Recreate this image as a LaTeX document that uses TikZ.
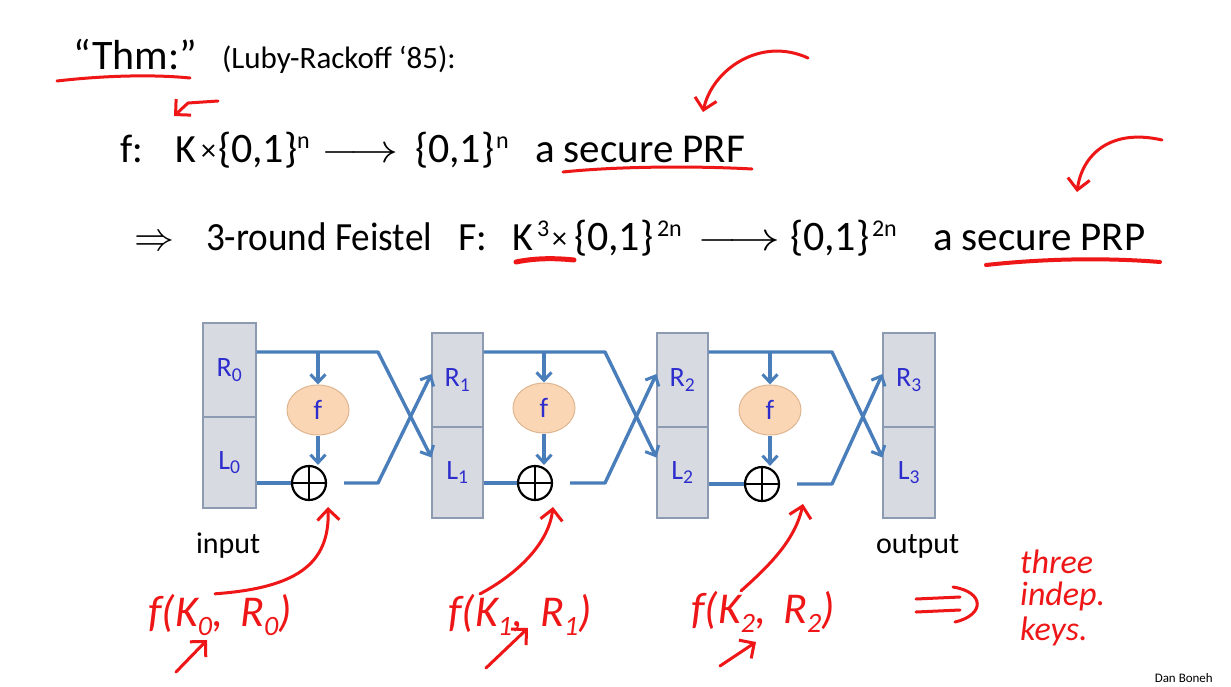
\documentclass[tikz,border=0pt]{standalone}
\usepackage{fix-cm}
\usepackage{fontspec}
\setmainfont{Carlito}
\usetikzlibrary{arrows.meta,shapes.geometric,calc}
\definecolor{flowblue}{RGB}{74,126,187}
\definecolor{boxgray}{RGB}{216,218,226}
\definecolor{boxedge}{RGB}{140,155,178}
\definecolor{lblue}{RGB}{45,45,205}
\definecolor{ffill}{RGB}{251,214,180}
\definecolor{fedge}{RGB}{222,182,145}
\definecolor{penred}{RGB}{238,22,22}
\newcommand\setfs[1]{\fontsize{#1}{#1}\selectfont}
\newcommand\hsub[1]{\raisebox{-0.22em}{\setfs{28}#1}}
\begin{document}
\begin{tikzpicture}[x=1pt,y=-1pt,
  txt/.style={inner sep=0pt,outer sep=0pt,anchor=base west},
  half/.style={draw=boxedge,fill=boxgray,line width=1.2pt,inner sep=0pt,minimum height=#1,text=lblue,font=\setfs{28}},
  flow/.style={draw=flowblue,line width=3.4pt,line join=round},
  farr/.style={flow,-{Straight Barb[length=8pt,width=15pt,line width=3pt]}},
  fnode/.style={ellipse,draw=fedge,fill=ffill,line width=1pt,minimum width=62pt,minimum height=50pt,inner sep=0pt,text=lblue,font=\setfs{28}},
  xornode/.style={circle,draw=black,line width=2.2pt,minimum size=34pt,inner sep=0pt,
    path picture={\draw[line width=2pt] (path picture bounding box.north) -- (path picture bounding box.south)
      (path picture bounding box.west) -- (path picture bounding box.east);}},
  redpen/.style={draw=penred,line width=3pt,line cap=round,line join=round},
  redarr/.style={redpen,-{Straight Barb[length=11pt,width=22pt,line width=3pt]}},
  hand/.style={inner sep=0pt,text=penred,font=\itshape\setfs{44}}
]
\useasboundingbox (0,0) rectangle (1231,686);
\fill[white] (0,0) rectangle (1231,686);

% ---------- title line ----------
\node[txt,font=\setfs{42}] (thm) at (73,69) {“Thm:”};
\node[txt,font=\setfs{31}] (lr) at (222,68) {(Luby-Rackoff ‘85):};

% ---------- line 2 ----------
\node[txt,font=\setfs{40}] (f) at (120,162) {f:};
\node[txt,font=\setfs{40}] (k) at (175,162) {K};
\node[txt,font=\setfs{30}] (tm) at (201,160) {×};
\node[txt,font=\setfs{42}] (s1) at (218,162) {\{0,1\}};
\node[txt,font=\setfs{24}] (n1) at (297,148) {n};
\node[txt,font=\setfs{40}] (ar1) at (321,162) {\scalebox{1.2}[1]{$\longrightarrow$}};
\node[txt,font=\setfs{42}] (s2) at (415,162) {\{0,1\}};
\node[txt,font=\setfs{24}] (n2) at (496,148) {n};
\node[txt,font=\setfs{41}] (prf) at (535,162) {a secure PRF};

% ---------- line 3 ----------
\node[txt,font=\setfs{40}] (imp) at (134,250) {$\Rightarrow$};
\node[txt,font=\setfs{40}] (feis) at (206,250) {\scalebox{0.93}[1]{3-round Feistel}};
\node[txt,font=\setfs{40}] (F) at (458,250) {F:};
\node[txt,font=\setfs{40}] (K3) at (512,250) {K};
\node[txt,font=\setfs{24}] (e3) at (537,236) {3};
\node[txt,font=\setfs{30}] (tm2) at (552,248) {×};
\node[txt,font=\setfs{42}] (s3) at (574,250) {\{0,1\}};
\node[txt,font=\setfs{24}] (n3) at (657,236) {2n};
\node[txt,font=\setfs{40}] (ar2) at (697,250) {\scalebox{1.3}[1]{$\longrightarrow$}};
\node[txt,font=\setfs{42}] (s4) at (790,250) {\{0,1\}};
\node[txt,font=\setfs{24}] (n4) at (872,236) {2n};
\node[txt,font=\setfs{41}] (prp) at (933,250) {a secure PRP};

% ---------- Feistel boxes ----------
\node[half=94pt,minimum width=53pt] (r0) at (229.5,370) {R\textsubscript{0}};
\node[half=91pt,minimum width=53pt] (l0) at (229.5,462.5) {L\textsubscript{0}};
\node[half=94pt,minimum width=51pt] (r1) at (457.5,380) {R\textsubscript{1}};
\node[half=91pt,minimum width=51pt] (l1) at (457.5,472.5) {L\textsubscript{1}};
\node[half=94pt,minimum width=51pt] (r2) at (682.5,380) {R\textsubscript{2}};
\node[half=91pt,minimum width=51pt] (l2) at (682.5,472.5) {L\textsubscript{2}};
\node[half=94pt,minimum width=52pt] (r3) at (909,380) {R\textsubscript{3}};
\node[half=91pt,minimum width=52pt] (l3) at (909,472.5) {L\textsubscript{3}};

\node[fnode] (f0) at (318,410) {f};
\node[fnode] (f1) at (544,408) {f};
\node[fnode] (f2) at (770,410) {f};
\node[xornode] (x0) at (309,483) {};
\node[xornode] (x1) at (535,483) {};
\node[xornode] (x2) at (762,484) {};

\coordinate (t0) at (378,352); \coordinate (b0) at (378,483);
\coordinate (t1) at (605,352); \coordinate (b1) at (605,483);
\coordinate (t2) at (832,352); \coordinate (b2) at (832,484);

% round 0
\draw[farr] (r0.east |- t0) -- (t0) -- ([yshift=15pt]l1.west);
\draw[flow] (l0.east |- x0) -- (x0.west);
\draw[farr] ([xshift=17pt]x0.east) -- (b0) -- ([yshift=6pt]r1.west);
\draw[farr] (f0 |- t0) -- (f0.north);
\draw[farr] (f0.south) -- (f0.south |- x0.north);
% round 1
\draw[farr] (r1.east |- t1) -- (t1) -- ([yshift=15pt]l2.west);
\draw[flow] (l1.east |- x1) -- (x1.west);
\draw[farr] ([xshift=17pt]x1.east) -- (b1) -- ([yshift=6pt]r2.west);
\draw[farr] (f1 |- t1) -- (f1.north);
\draw[farr] (f1.south) -- (f1.south |- x1.north);
% round 2
\draw[farr] (r2.east |- t2) -- (t2) -- ([yshift=15pt]l3.west);
\draw[flow] (l2.east |- x2) -- (x2.west);
\draw[farr] ([xshift=17pt]x2.east) -- (b2) -- ([yshift=6pt]r3.west);
\draw[farr] (f2 |- t2) -- (f2.north);
\draw[farr] (f2.south) -- (f2.south |- x2.north);

\node[txt,font=\setfs{30}] (inp) at (196,553) {input};
\node[txt,font=\setfs{30}] (outp) at (876,553) {output};
\node[inner sep=0pt,anchor=base east,font=\setfs{13}] (dan) at (1213,682) {Dan Boneh};

% ---------- red annotations ----------
\draw[redpen] (57,81) .. controls (100,76) and (150,74) .. (190,78);
\coordinate (sa) at (218,101); \coordinate (sb) at (188,103); \coordinate (sc) at (174,116);
\draw[redarr] (sa) -- (sb) -- (sc);

\draw[redpen] (563,172) .. controls (620,166) and (700,166) .. (752,169);
\coordinate (pa) at (808,58); \coordinate (pb) at (703,112);
\draw[redarr] (pa) .. controls (760,36) and (712,70) .. (pb);

\draw[redpen,line width=5pt] (516,262) .. controls (535,258) and (555,258) .. (574,260);
\draw[redpen,line width=4pt] (986,265) .. controls (1050,258) and (1110,258) .. (1160,262);
\coordinate (qa) at (1162,140); \coordinate (qb) at (1077,192);
\draw[redarr] (qa) .. controls (1110,128) and (1082,155) .. (qb);

% handwritten f(K_i, R_i)
\node[hand] (h0) at (220,615) {f(K\hsub{0}, \,R\hsub{0})};
\node[hand] (h1) at (520,615) {f(K\hsub{1}, \,R\hsub{1})};
\node[hand] (h2) at (763,612) {f(K\hsub{2}, \,R\hsub{2})};
\coordinate (e0) at (328,507); \coordinate (e1) at (553,507); \coordinate (e2) at (803,504);
\draw[redarr] ([xshift=-5pt]h0.north) .. controls (295,588) and (330,565) .. (e0);
\draw[redarr] ([xshift=-40pt]h1.north) .. controls (510,578) and (548,548) .. (e1);
\draw[redarr] ([xshift=-22pt]h2.north) .. controls (770,565) and (795,540) .. (e2);
\coordinate (u0a) at (176,672); \coordinate (u0b) at (207,640);
\coordinate (u1a) at (486,668); \coordinate (u1b) at (528,628);
\coordinate (u2a) at (720,666); \coordinate (u2b) at (756,642);
\draw[redarr] (u0a) -- (u0b);
\draw[redarr] (u1a) -- (u1b);
\draw[redarr] (u2a) -- (u2b);

% big implies
\coordinate (ia) at (916,599); \coordinate (ib) at (960,597);
\coordinate (ic) at (916,612); \coordinate (id) at (960,610);
\draw[redpen] (ia) -- (ib) (ic) -- (id);
\draw[redpen] (953,587) .. controls (985,592) and (985,615) .. (955,622);

\node[hand,anchor=base west,font=\itshape\setfs{34}] (k1) at (1020,573) {three};
\node[hand,anchor=base west,font=\itshape\setfs{34}] (k2) at (1020,605) {indep.};
\node[hand,anchor=base west,font=\itshape\setfs{34}] (k3) at (1020,640) {keys.};
\end{tikzpicture}
\end{document}
